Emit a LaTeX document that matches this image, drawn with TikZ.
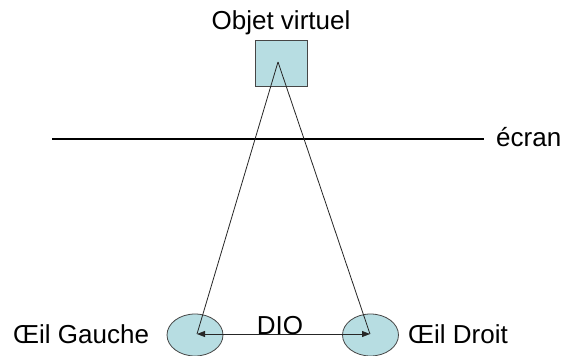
\documentclass[tikz,border=0pt]{standalone}
\usepackage{fontspec}
\setmainfont{Liberation Sans}
\usetikzlibrary{arrows.meta}
\definecolor{lblue}{RGB}{183,221,226}
\definecolor{edge}{RGB}{70,70,70}
\begin{document}
\begin{tikzpicture}[x=1pt,y=-1pt,
  lbl/.style={font=\fontsize{26}{30}\selectfont, inner sep=0pt},
  obj/.style={draw=edge, fill=lblue, line width=0.8pt, minimum width=52pt, minimum height=46pt, inner sep=0pt},
  ray/.style={draw=black!85, line width=0.8pt},
  dio/.style={draw=black!85, line width=0.8pt, {Triangle[length=8pt,width=6pt]}-{Triangle[length=8pt,width=6pt]}}
]
\useasboundingbox (0,0) rectangle (566,356);
\fill[white] (0,0) rectangle (566,356);
\node[obj] (box) at (281,63.5) {};
\coordinate (apex) at (278,62);
\node[lbl, anchor=base] (objt) at (281,30) {Objet virtuel};
\coordinate (s1) at (52,139);
\coordinate (s2) at (484,139);
\draw[line width=2.2pt] (s1) -- (s2);
\node[lbl, anchor=base west] (ecran) at (496,146) {écran};
\draw[draw=edge, fill=lblue, line width=0.8pt] (195,335) ellipse [x radius=28, y radius=21];
\draw[draw=edge, fill=lblue, line width=0.8pt] (370.5,335) ellipse [x radius=28, y radius=21];
\coordinate (le) at (197,334);
\coordinate (re) at (370,334);
\draw[ray] (apex) -- (le);
\draw[ray] (apex) -- (re);
\draw[dio] (le) -- (re);
\node[lbl, anchor=base] (diot) at (280,334) {DIO};
\node[lbl, anchor=base west] (lg) at (13,343) {Œil Gauche};
\node[lbl, anchor=base west] (rd) at (408,343) {Œil Droit};
\end{tikzpicture}
\end{document}
